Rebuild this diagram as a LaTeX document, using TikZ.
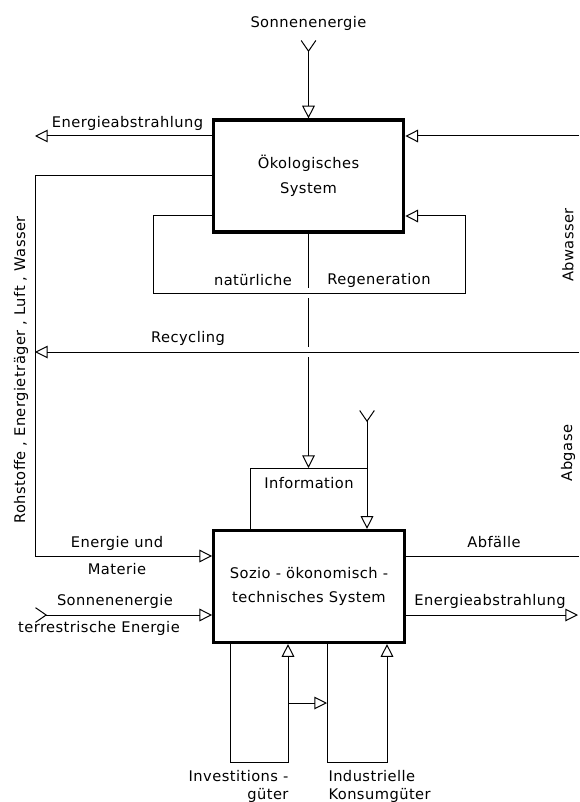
\documentclass[tikz,border=0pt]{standalone}
\usepackage{fontspec}
\setmainfont{DejaVu Sans}[LetterSpace=3]
\usetikzlibrary{arrows.meta}

\tikzset{every picture/.style={line width=0.75pt}}
\tikzset{
  hollow/.tip={Triangle[open,length=9.5pt,width=9.5pt,line width=0.75pt]},
  Yfork/.tip={Straight Barb[reversed,length=8pt,width=11pt,line width=0.75pt]},
  sysbox/.style={draw,line width=2.4pt,minimum width=143pt,minimum height=84pt,align=center,inner sep=0pt},
  lbl/.style={inner sep=0.75pt,font=\fontsize{11pt}{13.5pt}\selectfont},
}

\begin{document}
\begin{tikzpicture}[x=0.75pt,y=0.75pt,yscale=-1,xscale=1]
\useasboundingbox (0,0) rectangle (579,802);

%Shape: Rectangle
\node [sysbox,font=\fontsize{11pt}{18.75pt}\selectfont] (eco) at (308.5,176) {Ökologisches\\System};
%Shape: Rectangle
\node [sysbox,font=\fontsize{11pt}{18pt}\selectfont] (soz) at (309,586.5) {Sozio - ökonomisch -\\technisches System};

% corner points
\coordinate (sunY) at (308.5,40);
\coordinate (radL) at (35,136);
\coordinate (inR) at (579,136);
\coordinate (rawT) at (35,176);
\coordinate (rawB) at (35,556);
\coordinate (regTL) at (153,216);
\coordinate (regBL) at (153,293);
\coordinate (regBR) at (465,293);
\coordinate (regTR) at (465,216);
\coordinate (hopA) at (308.5,288);
\coordinate (hopB) at (308.5,298);
\coordinate (hopC) at (308.5,347);
\coordinate (hopD) at (308.5,357);
\coordinate (recR) at (579,352);
\coordinate (infoL) at (250,468);
\coordinate (infoY) at (367,410);
\coordinate (sunL) at (35,615);
\coordinate (wasteR) at (579,556);
\coordinate (radR) at (578,615);
\coordinate (invBL) at (230,762);
\coordinate (invBR) at (288,762);
\coordinate (invM) at (288,703);
\coordinate (conBL) at (327,762);
\coordinate (conBR) at (387,762);

%Straight Lines
\draw [Yfork-hollow] (sunY) -- (eco.north);
%Straight Lines
\draw [-hollow] (eco.west |- radL) -- (radL);
%Straight Lines
\draw [-hollow] (inR) -- (inR -| eco.east);
%Straight Lines
\draw [-hollow] (eco.west) -- (rawT) -- (rawB) -- (rawB -| soz.west);
%Straight Lines
\draw [-hollow] (regTL -| eco.west) -- (regTL) -- (regBL) -- (regBR) -- (regTR) -- (regTR -| eco.east);
%Straight Lines
\draw (eco.south) -- (hopA);
\draw (hopB) -- (hopC);
\draw [-hollow] (hopD) -- (hopD |- infoL);
%Straight Lines
\draw [-hollow] (recR) -- (recR -| rawT);
%Straight Lines
\draw (soz.north -| infoL) -- (infoL) -- (infoL -| infoY);
\draw [Yfork-hollow] (infoY) -- (infoY |- soz.north);
%Straight Lines
\draw [Yfork-hollow] (sunL) -- (sunL -| soz.west);
%Straight Lines
\draw (soz.east |- wasteR) -- (wasteR);
\draw [-hollow] (soz.east |- radR) -- (radR);
%Straight Lines
\draw [-hollow] (invBL |- soz.south) -- (invBL) -- (invBR) -- (invBR |- soz.south);
\draw [-hollow] (invM) -- (invM -| conBL);
\draw [-hollow] (conBL |- soz.south) -- (conBL) -- (conBR) -- (conBR |- soz.south);

% Text Node
\node [lbl] (sunTop) at (308.5,23) {Sonnenenergie};
% Text Node
\node [lbl] (radTxtL) at (127.5,123) {Energieabstrahlung};
% Text Node
\node [lbl] (natTxt) at (253,280) {natürliche};
% Text Node
\node [lbl] (regTxt) at (379,280) {Regeneration};
% Text Node
\node [lbl] (recTxt) at (188,338) {Recycling};
% Text Node
\node [lbl] (infoTxt) at (309,483) {Information};
% Text Node
\node [lbl,rotate=90] (rawTxt) at (21,370) {Rohstoffe , Energieträger , Luft , Wasser};
% Text Node
\node [lbl,rotate=90] (sewTxt) at (568,245) {Abwasser};
% Text Node
\node [lbl,rotate=90] (gasTxt) at (568,453) {Abgase};
% Text Node
\node [lbl] (emTxt) at (117,543) {Energie und};
% Text Node
\node [lbl] (matTxt) at (117,569) {Materie};
% Text Node
\node [lbl] (sunTxt) at (115,601) {Sonnenenergie};
% Text Node
\node [lbl] (terTxt) at (99,628) {terrestrische Energie};
% Text Node
\node [lbl] (wasteTxt) at (494,542) {Abfälle};
% Text Node
\node [lbl] (radTxtR) at (490,601) {Energieabstrahlung};
% Text Node
\node [lbl,align=right,anchor=east] (invTxt) at (290,786) {Investitions -\\güter};
% Text Node
\node [lbl,align=left,anchor=west] (conTxt) at (327,786) {Industrielle\\Konsumgüter};

\end{tikzpicture}
\end{document}
